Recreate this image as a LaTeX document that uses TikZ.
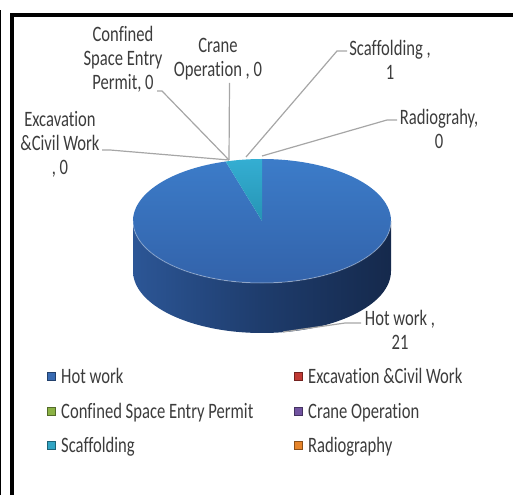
\documentclass[tikz,border=0pt]{standalone}
\usepackage{fontspec}
\setmainfont{Carlito}[FakeStretch=0.86, Ligatures=NoCommon]
\definecolor{txt}{RGB}{60,60,60}
\definecolor{lead}{RGB}{166,166,166}
\definecolor{hotA}{RGB}{60,124,201}
\definecolor{hotB}{RGB}{50,97,168}
\definecolor{sideA}{RGB}{44,86,150}
\definecolor{sideB}{RGB}{30,60,108}
\definecolor{sideC}{RGB}{21,41,76}
\definecolor{scafA}{RGB}{52,174,210}
\definecolor{scafB}{RGB}{38,148,180}
\definecolor{hotC}{RGB}{56,106,178}
\definecolor{excC}{RGB}{192,57,52}
\definecolor{confC}{RGB}{139,178,68}
\definecolor{craneC}{RGB}{113,83,160}
\definecolor{scafC}{RGB}{49,165,196}
\definecolor{radioC}{RGB}{230,132,42}
\begin{document}
\begin{tikzpicture}[x=1pt, y=1pt,
    lbl/.style={align=center, inner sep=0pt, text=txt, yscale=1.14, font=\fontsize{19.3}{21}\selectfont},
    leg/.style={anchor=base west, inner sep=0pt, text=txt, yscale=1.14, font=\fontsize{19.3}{21}\selectfont},
    key/.style={minimum size=8pt, inner sep=0pt, fill=#1, draw=#1!60!black, line width=.5pt},
    leader/.style={draw=lead, line width=1.2pt}]
    \useasboundingbox (0,0) rectangle (513,495);
    % frame
    \draw[line width=1.4pt] (0.7,0) -- (0.7,485);
    \draw[line width=3.8pt, line join=miter] (11.75,0) -- (11.75,479.7) -- (513,479.7);

    % pie
    \coordinate (c) at (262,274);
    \shade[left color=sideA, right color=sideC, middle color=sideB] (133,274) arc[start angle=180, end angle=360, x radius=129pt, y radius=62pt] -- (391,224) arc[start angle=0, end angle=-180, x radius=129pt, y radius=62pt] -- cycle;
    \shade[top color=hotA, bottom color=hotB] (c) -- ++(106.36:129pt and 62pt) arc[start angle=106.36, end angle=450, x radius=129pt, y radius=62pt] -- cycle;
    \shade[top color=scafA, bottom color=scafB] (c) -- ++(90:62pt) arc[start angle=90, end angle=106.36, x radius=129pt, y radius=62pt] -- cycle;
    \draw[white, opacity=.3, line width=1pt] (133,274) arc[start angle=180, end angle=360, x radius=129pt, y radius=62pt];

    % data labels
    \node (exc) [lbl] at (60,351) {Excavation\\\&Civil Work\\, 0};
    \node (conf) [lbl] at (123,436) {Confined\\Space Entry\\Permit, 0};
    \node (crane) [lbl] at (218,436) {Crane\\Operation , 0};
    \node (scaf) [lbl] at (390,435.5) {Scaffolding ,\\1};
    \node (radio) [lbl] at (439,366.5) {Radiograhy,\\0};
    \node (hot) [lbl] at (400,165.5) {Hot work ,\\21};

    % leader lines
    \coordinate (p0) at (229,335);
    \coordinate (p1) at (246,338);
    \coordinate (p2) at (262,339);
    \coordinate (p3) at (283,163);
    \coordinate (exc-l) at (102,345);
    \coordinate (conf-l) at (157,404);
    \coordinate (crane-l) at (229.5,412);
    \coordinate (scaf-l) at (347,444);
    \coordinate (radio-l) at (397,375);
    \coordinate (hot-l) at (361,172);
    \draw[leader] (exc-l) -- ++(8,0) -- (p0);
    \draw[leader] (conf-l) -- ++(5,0) -- (p0);
    \draw[leader] (crane-l) -- (p0);
    \draw[leader] (scaf-l) -- ++(-10,0) -- (p1);
    \draw[leader] (radio-l) -- ++(-10,0) -- (p2);
    \draw[leader] (hot-l) -- ++(-16,0) -- (p3);

    % legend
    \node (kHot) [key=hotC] at (51,119) {};
    \node (lHot) [leg] at (61,112) {Hot work};
    \node (kConf) [key=confC] at (51,84) {};
    \node (lConf) [leg] at (61,77) {Confined Space Entry Permit};
    \node (kScaf) [key=scafC] at (51,50) {};
    \node (lScaf) [leg] at (61,43) {Scaffolding};
    \node (kExc) [key=excC] at (298.5,119) {};
    \node (lExc) [leg] at (308,112) {Excavation \&Civil Work};
    \node (kCrane) [key=craneC] at (298.5,84) {};
    \node (lCrane) [leg] at (308,77) {Crane Operation};
    \node (kRadio) [key=radioC] at (298.5,50) {};
    \node (lRadio) [leg] at (308,43) {Radiography};
\end{tikzpicture}
\end{document}
